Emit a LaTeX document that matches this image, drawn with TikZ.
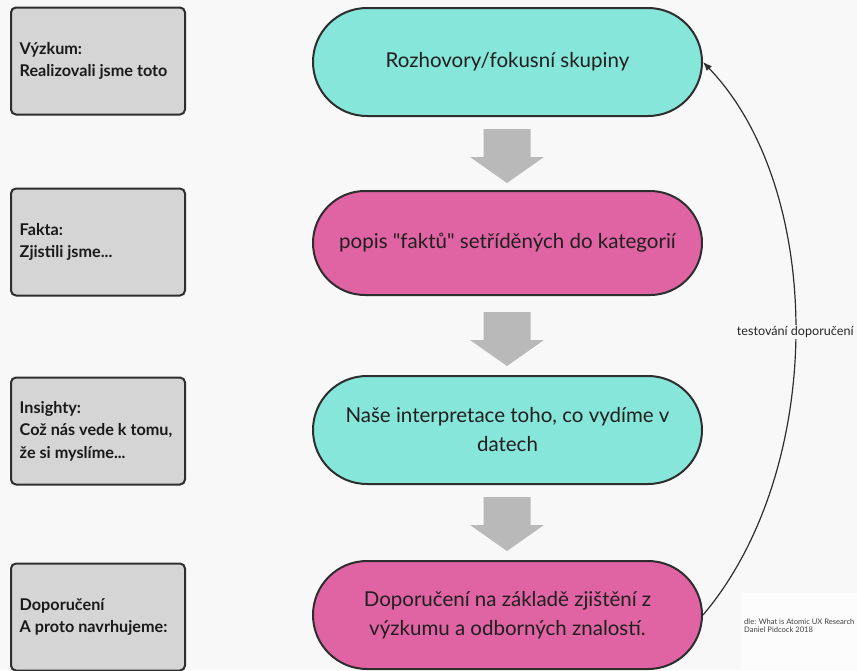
\documentclass[tikz,border=0pt]{standalone}
\usepackage{fontspec}
\setmainfont{Lato}
\usetikzlibrary{shapes.misc,arrows.meta}
\definecolor{bg}{HTML}{F8F8F8}
\definecolor{teal}{HTML}{86E6DA}
\definecolor{pink}{HTML}{E063A3}
\definecolor{boxgray}{HTML}{D5D5D5}
\definecolor{arrgray}{HTML}{B9B9B9}
\definecolor{edge}{HTML}{2E2E2E}
\tikzset{
  lbox/.style={draw=edge, line width=2pt, fill=boxgray, rounded corners=5pt,
    minimum width=174pt, minimum height=107pt, inner sep=0pt},
  ltext/.style={anchor=west, align=left, inner sep=0pt,
    font=\bfseries\fontsize{16.2}{22.5}\selectfont, text=black!90},
  pill/.style={rounded rectangle, draw=edge, line width=2pt, minimum width=389pt,
    minimum height=108pt, align=center, inner sep=0pt,
    font=\fontsize{20.5}{29}\selectfont, text=black!88},
  garrow/.style={fill=arrgray, draw=none},
  feedback/.style={draw=edge, line width=1.2pt, -{Latex[length=9pt,width=7pt]}},
}
% gray block arrow: #1 = name, (#2,#3) = top centre
\newcommand{\blockarrow}[3]{%
  \coordinate (#1) at (#2,#3);
  \fill[garrow] ([xshift=-23.5pt]#1) -- ([xshift=23.5pt]#1) -- ([shift={(23.5,28)}]#1)
    -- ([shift={(37,28)}]#1) -- ([shift={(0,54)}]#1) -- ([shift={(-37,28)}]#1)
    -- ([shift={(-23.5,28)}]#1) -- cycle;}
\begin{document}
\begin{tikzpicture}[x=1pt,y=-1pt]
\fill[bg] (0,0) rectangle (857,670);
\useasboundingbox (0,0) rectangle (857,670);
\clip (0,0) rectangle (857,670);
% left boxes
\node[lbox] (l1) at (98,61) {};
\node[ltext] (t1) at ([xshift=9.5pt]l1.west) {Výzkum:\\Realizovali jsme toto};
\node[lbox] (l2) at (98,242) {};
\node[ltext] (t2) at ([xshift=9.5pt]l2.west) {Fakta:\\Zjistili jsme...};
\node[lbox] (l3) at (98,431) {};
\node[ltext] (t3) at ([xshift=9.5pt]l3.west) {Insighty:\\Což nás vede k tomu,\\že si myslíme...};
\node[lbox] (l4) at (98,617) {};
\node[ltext] (t4) at ([xshift=9.5pt]l4.west) {Doporučení\\A proto navrhujeme:};
% pills
\node[pill, fill=teal] (p1) at (507.5,62) {Rozhovory/fokusní skupiny};
\node[pill, fill=pink, minimum height=104pt] (p2) at (507.5,243) {popis \textquotedbl faktů\textquotedbl{} setříděných do kategorií};
\node[pill, fill=teal] (p3) at (507.5,430) {Naše interpretace toho, co vydíme v\\datech};
\node[pill, fill=pink] (p4) at (507.5,615) {Doporučení na základě zjištění z\\výzkumu a odborných znalostí.};
% gray arrows
\blockarrow{a1}{507}{129}
\blockarrow{a2}{507}{312}
\blockarrow{a3}{507}{497}
% feedback curve
\draw[feedback] (p4.east) .. controls (826,470) and (826,190) .. (p1.east)
  node[pos=0.5, fill=bg, inner sep=1.5pt, font=\fontsize{12.6}{14}\selectfont, text=black!85] (lab) {testování doporučení};
% source note
\fill[white!60!bg] (741,593) rectangle (857,670);
\node[anchor=west, align=left, inner sep=0pt, font=\fontsize{7.6}{8.2}\selectfont, text=black!75] (src) at (744,626)
  {dle: What is Atomic UX Research\\Daniel Pidcock 2018};
\end{tikzpicture}
\end{document}
